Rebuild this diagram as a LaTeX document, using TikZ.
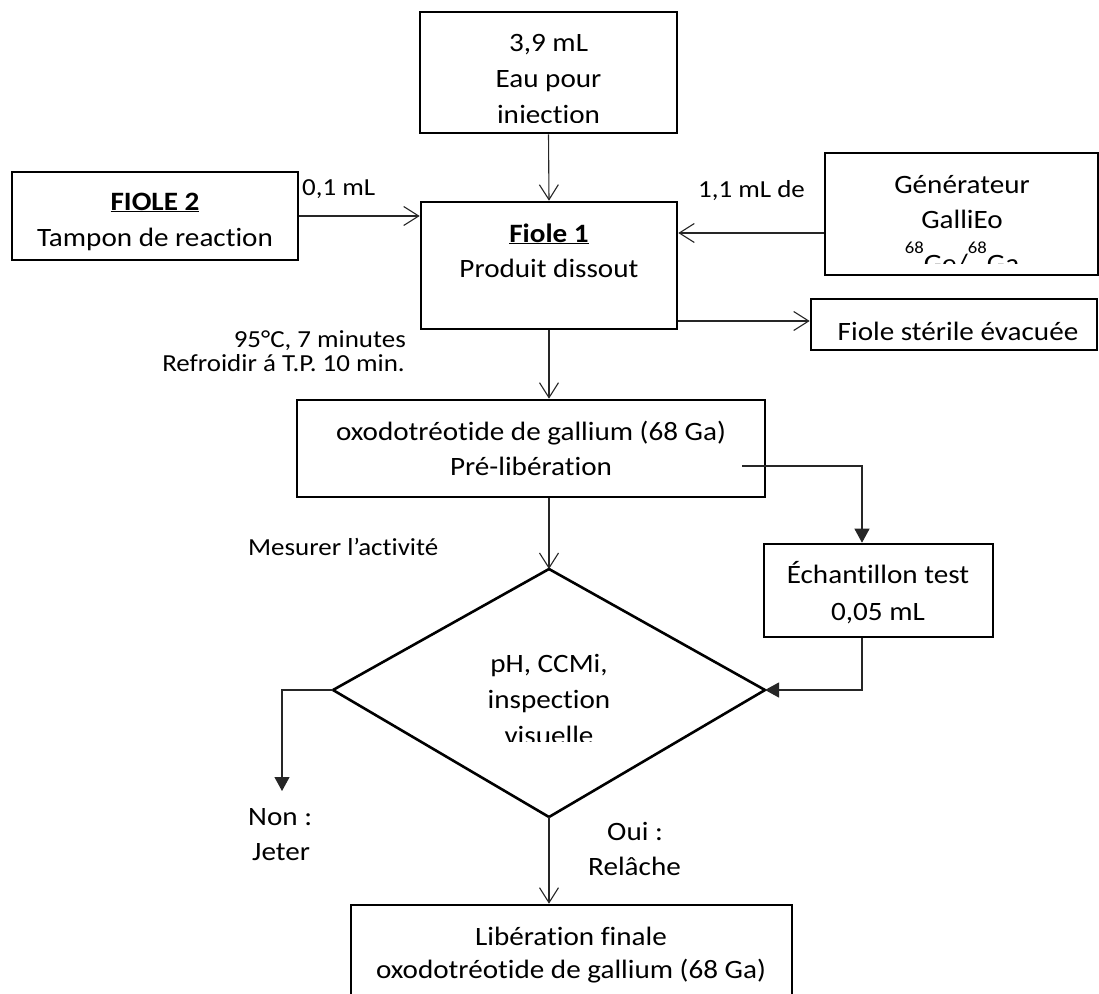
\documentclass[tikz,border=0pt]{standalone}
\usepackage{fontspec}
\setmainfont{Carlito}[FakeStretch=1.1,Ligatures={NoCommon}]
\usetikzlibrary{arrows.meta}
\begin{document}
\begin{tikzpicture}[x=1bp,y=-1bp,
  box/.style={draw=black,line width=2.6bp,inner sep=0pt,fill=none},
  bt/.style={anchor=base,inner sep=0pt,font=\fontsize{26.5bp}{35bp}\selectfont},
  lt/.style={inner sep=0pt,font=\fontsize{24.5bp}{26bp}\selectfont},
  conn/.style={line width=1.1bp,draw=black!85},
  open/.style={conn,-{Straight Barb[length=15bp,width=19bp,line width=1.1bp]}},
  filled/.style={conn,-{Triangle[length=14bp,width=15bp]}}]
\useasboundingbox (0,0) rectangle (1099,994);
\clip (0,0) rectangle (1099,994);
\fill[white] (0,0) rectangle (1099,994);

% boxes
\node[box,minimum width=257bp,minimum height=121bp] (eau) at (548.5,72.5) {};
\node[box,minimum width=286bp,minimum height=88bp] (f2) at (155,216) {};
\node[box,minimum width=256bp,minimum height=127bp] (f1) at (549,265.5) {};
\node[box,minimum width=273bp,minimum height=122bp] (gen) at (961.5,214) {};
\node[box,minimum width=286bp,minimum height=51bp] (ster) at (954,324.5) {};
\node[box,minimum width=468bp,minimum height=97bp] (oxo) at (531,448.5) {};
\node[box,minimum width=229bp,minimum height=93bp] (ech) at (878.5,590.5) {};
\node[box,minimum width=441bp,minimum height=110bp] (fin) at (571.5,960) {};

% decision diamond
\coordinate (dT) at (549,569);
\coordinate (dR) at (765,690);
\coordinate (dB) at (549,817);
\coordinate (dL) at (333,690);
\draw[line width=2.6bp,line join=miter] (dT) -- (dR) -- (dB) -- (dL) -- cycle;

% texts in boxes
\begin{scope}
\clip (421,13) rectangle (676,122.5);
\node[bt] (eau1) at (548.5,51) {3,9 mL};
\node[bt] (eau2) at (548.5,87) {Eau pour};
\node[bt] (eau3) at (548.5,123) {injection};
\end{scope}

\node[bt] (f2a) at (155,210) {\underline{\textbf{FIOLE 2}}};
\node[bt] (f2b) at (155,246) {Tampon de reaction};

\node[bt] (f1a) at (549,242) {\underline{\textbf{Fiole 1}}};
\node[bt] (f1b) at (549,277) {Produit dissout};

\begin{scope}
\clip (826,154) rectangle (1097,263);
\node[bt] (gen1) at (962,193) {Générateur};
\node[bt] (gen2) at (962,228) {GalliEo};
\node[bt] (gen3) at (962,272) {\raisebox{19bp}{\fontsize{17bp}{17bp}\selectfont 68}Ge/\raisebox{19bp}{\fontsize{17bp}{17bp}\selectfont 68}Ga};
\end{scope}

\node[bt] (st1) at (958,340) {Fiole stérile évacuée};

\node[bt] (ox1) at (531,440) {oxodotréotide de gallium (68 Ga)};
\node[bt] (ox2) at (531,475) {Pré-libération};

\node[bt] (ec1) at (878,583) {Échantillon test};
\node[bt] (ec2) at (878,620) {0,05 mL};

\begin{scope}
\clip (333,569) rectangle (765,741.5);
\node[bt] (di1) at (549,672) {pH, CCMi,};
\node[bt] (di2) at (549,708) {inspection};
\node[bt] (di3) at (549,744) {visuelle};
\end{scope}

\node[bt] (fi1) at (571,945) {Libération finale};
\node[bt] (fi2) at (571,978) {oxodotréotide de gallium (68 Ga)};

% free labels
\node[lt,anchor=base west] (l01) at (302,195) {0,1 mL};
\node[lt,anchor=base west] (l11) at (698,197) {1,1 mL de};
\node[lt,anchor=base east] (l95) at (406,347) {95°C, 7 minutes};
\node[lt,anchor=base east] (lref) at (405,371) {Refroidir á T.P. 10 min.};
\node[lt,anchor=base west] (lmes) at (248,555) {Mesurer l’activité};
\node[bt,anchor=base west] (non1) at (248,825) {Non :};
\node[bt,anchor=base west] (non2) at (252,860) {Jeter};
\node[bt,anchor=base west] (oui1) at (607,840) {Oui :};
\node[bt,anchor=base west] (oui2) at (588,875) {Relâche};

% connectors
\draw[open] (eau.south) -- (f1.north);
\draw[open] (f2.east) -- (f2.east -| f1.west);
\draw[open] (gen.west |- 0,233) -- (f1.east |- 0,233);
\draw[open] (f1.east |- 0,321) -- (ster.west |- 0,321);
\draw[open] (f1.south) -- (oxo.north -| f1.south);
\coordinate (oxout) at (742,466);
\draw[filled] (oxout) -| (ech.north -| 862,0);
\draw[filled] (ech.south -| 862,0) |- (dR);
\draw[open] (oxo.south -| dT) -- (dT);
\coordinate (nonend) at (282,791);
\draw[filled] (dL) -| (nonend);
\draw[open] (dB) -- (fin.north -| dB);
\end{tikzpicture}
\end{document}
